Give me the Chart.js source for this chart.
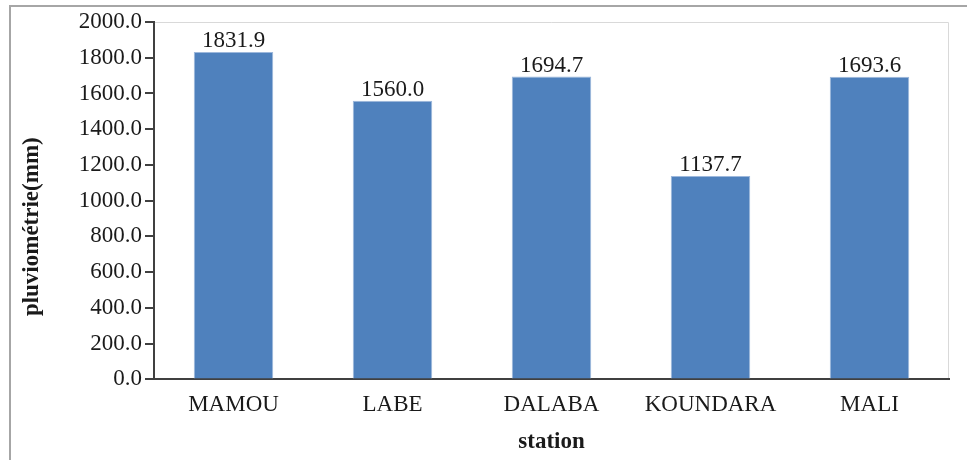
<!DOCTYPE html>
<html>
<head>
<meta charset="utf-8">
<script src="https://cdn.jsdelivr.net/npm/chart.js@4/dist/chart.umd.min.js"></script>
<style>
  html, body { margin: 0; padding: 0; background: #fff; }
  #wrap { position: relative; width: 967px; height: 460px; }
</style>
</head>
<body>
<div id="wrap"><canvas id="chart" width="967" height="460"></canvas></div>
<script>
"use strict";

// Annual rainfall per station (mm).
const stations = ["MAMOU", "LABE", "DALABA", "KOUNDARA", "MALI"];
const rainfall = [1831.9, 1560.0, 1694.7, 1137.7, 1693.6];
const yTicks = [0, 200, 400, 600, 800, 1000, 1200, 1400, 1600, 1800, 2000];
const yTitle = "pluviométrie(mm)";

const SERIF = "'Liberation Serif', 'Times New Roman', serif";
const BAR_BLUE = "#4f81bd";
const INK = "#1a1a1a";

/** Outer page frame plus the light top/right border of the plot area. */
const frame = {
  id: "frame",
  beforeDraw(chart) {
    const { ctx, chartArea: a } = chart;
    ctx.save();
    ctx.strokeStyle = "#a6a6a6";
    ctx.lineWidth = 2;
    ctx.beginPath();
    ctx.moveTo(10, chart.height);
    ctx.lineTo(10, 6);
    ctx.lineTo(chart.width, 6);
    ctx.stroke();

    ctx.strokeStyle = "#d9d9d9";
    ctx.lineWidth = 1;
    ctx.beginPath();
    ctx.moveTo(a.left, a.top + 0.5);
    ctx.lineTo(a.right - 0.5, a.top + 0.5);
    ctx.lineTo(a.right - 0.5, a.bottom);
    ctx.stroke();
    ctx.restore();
  },
  // The y title sits a little below the plot's middle in the original,
  // so it is drawn here rather than by the scale.
  afterDraw(chart) {
    const { ctx, chartArea: a } = chart;
    ctx.save();
    ctx.translate(32, (a.top + a.bottom) / 2 + 26);
    ctx.rotate(-Math.PI / 2);
    ctx.font = `bold 23px ${SERIF}`;
    ctx.fillStyle = INK;
    ctx.textAlign = "center";
    ctx.textBaseline = "middle";
    ctx.fillText(yTitle, 0, 0);
    ctx.restore();
  },
};

/** Value labels above each bar, placed from the bar elements. */
const valueLabels = {
  id: "valueLabels",
  afterDatasetsDraw(chart) {
    const { ctx } = chart;
    const meta = chart.getDatasetMeta(0);
    ctx.save();
    ctx.font = `23px ${SERIF}`;
    ctx.fillStyle = INK;
    ctx.textAlign = "center";
    ctx.textBaseline = "alphabetic";
    meta.data.forEach((bar, i) => {
      ctx.fillText(rainfall[i].toFixed(1), bar.x, bar.y - 5);
    });
    ctx.restore();
  },
};

new Chart(document.getElementById("chart"), {
  type: "bar",
  data: {
    labels: stations,
    datasets: [
      {
        data: rainfall,
        backgroundColor: BAR_BLUE,
        borderColor: "#9db8dc",
        borderWidth: 1,
        barPercentage: 0.5,
        categoryPercentage: 1,
      },
    ],
  },
  options: {
    responsive: false,
    animation: false,
    devicePixelRatio: 1,
    layout: { padding: { left: 18, right: 18, top: 22, bottom: 6 } },
    plugins: { legend: { display: false }, tooltip: { enabled: false } },
    scales: {
      x: {
        grid: { display: false, drawTicks: false },
        border: { display: true, color: "#404040", width: 2 },
        ticks: { color: INK, padding: 12, font: { family: SERIF, size: 23 } },
        title: {
          display: true,
          text: "station",
          color: INK,
          padding: { top: 0, bottom: 0 },
          font: { family: SERIF, size: 23, weight: "bold", lineHeight: 1 },
        },
      },
      y: {
        min: 0,
        max: 2000,
        afterBuildTicks(scale) {
          scale.ticks = yTicks.map((value) => ({ value }));
        },
        afterFit(scale) {
          scale.width = 136;
        },
        grid: { drawOnChartArea: false, drawTicks: true, tickLength: 9, color: "#404040", lineWidth: 2 },
        border: { display: true, color: "#404040", width: 2 },
        ticks: {
          color: INK,
          padding: 3,
          font: { family: SERIF, size: 23 },
          callback: (v) => Number(v).toFixed(1),
        },
      },
    },
  },
  plugins: [frame, valueLabels],
});
</script>
</body>
</html>
